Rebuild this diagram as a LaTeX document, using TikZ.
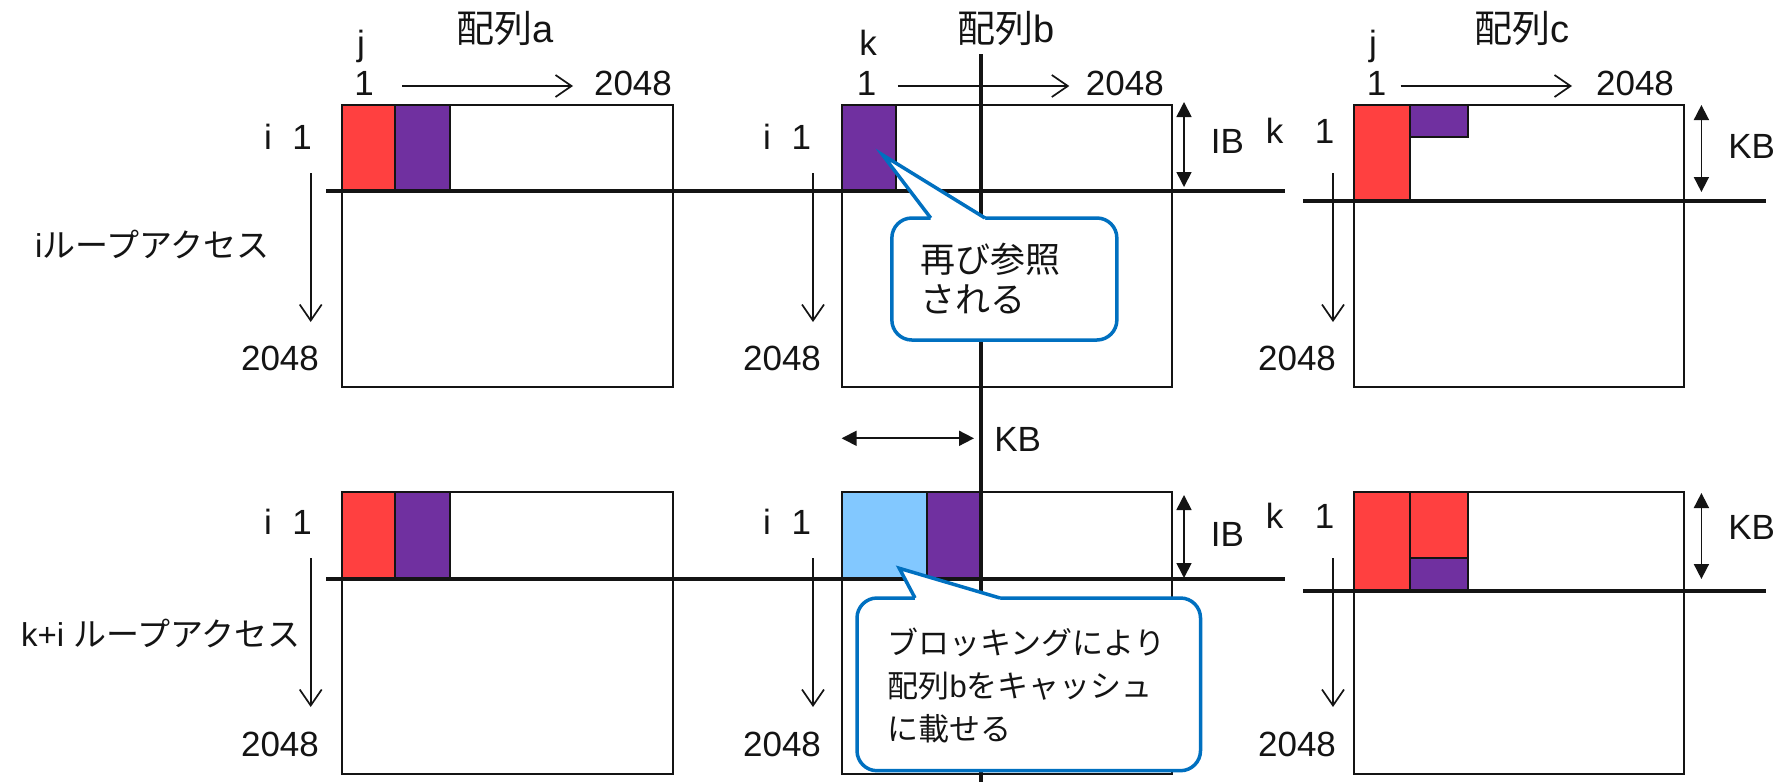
\documentclass[tikz,border=0pt]{standalone}
\usepackage{fontspec}
\setmainfont{Liberation Sans}
\newfontfamily\jp{Noto Sans CJK JP}
\usetikzlibrary{arrows.meta}
\definecolor{cred}{HTML}{FF4040}
\definecolor{cpur}{HTML}{7030A0}
\definecolor{cblue}{HTML}{82C8FF}
\definecolor{cline}{HTML}{0070C0}
\definecolor{ink}{HTML}{141414}
\tikzset{
  frame/.style={draw=ink, line width=1.8pt},
  blk/.style={draw=ink, line width=2pt},
  heavy/.style={draw=ink, line width=4pt},
  arr/.style={draw=ink, line width=1.7pt, -{Straight Barb[length=16pt,width=22pt,line width=1.7pt]}},
  dbl/.style={draw=ink, line width=1.7pt, {Triangle[length=15pt,width=15pt]}-{Triangle[length=15pt,width=15pt]}},
  lab/.style={inner sep=0pt, anchor=base, text=ink, font=\fontsize{35}{40}\selectfont},
  ttl/.style={inner sep=0pt, anchor=base, text=ink, font=\fontsize{38}{40}\selectfont},
  side/.style={inner sep=0pt, anchor=base west, text=ink, font=\fontsize{33}{40}\selectfont},
  cotext/.style={inner sep=0pt, anchor=base west, text=ink},
  cobox/.style={draw=cline, line width=3.5pt, fill=white, rounded corners=20pt},
  coptr/.style={draw=cline, line width=3.5pt, line join=miter},
}
\begin{document}
\begin{tikzpicture}[x=1pt,y=-1pt]
\useasboundingbox[fill=white] (0,0) rectangle (1787,782);

% ---------- boxes ----------
\foreach \L/\R in {342/672.7, 841.6/1172.2, 1353.8/1684.2}{
  \draw[frame] (\L,105) rectangle (\R,387);
  \draw[frame] (\L,492) rectangle (\R,774);
}

% ---------- coloured blocks (top row) ----------
\filldraw[blk, fill=cred] (342,105) rectangle (394.7,191);
\filldraw[blk, fill=cpur] (394.7,105) rectangle (450,191);
\filldraw[blk, fill=cpur] (841.6,105) rectangle (896.3,191);
\filldraw[blk, fill=cred] (1353.8,105) rectangle (1410,201);
\filldraw[blk, fill=cpur] (1410,105) rectangle (1467.5,137);

% ---------- coloured blocks (bottom row) ----------
\filldraw[blk, fill=cred] (342,492) rectangle (394.7,579);
\filldraw[blk, fill=cpur] (394.7,492) rectangle (450,579);
\filldraw[blk, fill=cblue] (841.6,492) rectangle (927,579);
\filldraw[blk, fill=cpur] (927,492) rectangle (981,579);
\filldraw[blk, fill=cred] (1353.8,492) rectangle (1410,590.7);
\filldraw[blk, fill=cred] (1410,492) rectangle (1467.5,557.7);
\filldraw[blk, fill=cpur] (1410,557.7) rectangle (1467.5,590.7);

% ---------- heavy lines ----------
\coordinate (h1a) at (326,191);   \coordinate (h1b) at (1285,191);
\coordinate (h1c) at (1303,201.3); \coordinate (h1d) at (1766,201.3);
\coordinate (h2a) at (326,579);   \coordinate (h2b) at (1285,579);
\coordinate (h2c) at (1303,590.7); \coordinate (h2d) at (1766,590.7);
\coordinate (vt) at (981,54);     \coordinate (vb) at (981,782);
\draw[heavy] (h1a) -- (h1b);
\draw[heavy] (h1c) -- (h1d);
\draw[heavy] (h2a) -- (h2b);
\draw[heavy] (h2c) -- (h2d);
\draw[heavy] (vt) -- (vb);

% ---------- index arrows ----------
\foreach \n/\xa/\xb in {a/402/573, b/897.8/1069.3, c/1400.7/1572}{
  \coordinate (hs\n) at (\xa,86); \coordinate (he\n) at (\xb,86);
  \draw[arr] (hs\n) -- (he\n);
}
\foreach \n/\x in {a/310.7, b/813, c/1333}{
  \coordinate (vs\n) at (\x,173); \coordinate (ve\n) at (\x,322);
  \draw[arr] (vs\n) -- (ve\n);
  \coordinate (ws\n) at (\x,558); \coordinate (we\n) at (\x,707);
  \draw[arr] (ws\n) -- (we\n);
}

% ---------- size arrows ----------
\coordinate (ib1t) at (1184,102);   \coordinate (ib1b) at (1184,187);
\coordinate (ib2t) at (1184,495);   \coordinate (ib2b) at (1184,578);
\coordinate (kb1t) at (1701.4,105); \coordinate (kb1b) at (1701.4,192);
\coordinate (kb2t) at (1701.4,493); \coordinate (kb2b) at (1701.4,579);
\coordinate (kbl) at (841.6,438.3); \coordinate (kbr) at (974,438.3);
\draw[dbl] (ib1t) -- (ib1b);
\draw[dbl] (ib2t) -- (ib2b);
\draw[dbl] (kb1t) -- (kb1b);
\draw[dbl] (kb2t) -- (kb2b);
\draw[dbl] (kbl) -- (kbr);

% ---------- titles and index labels ----------
\node[ttl] (ta) at (505,42) {{\jp 配列}a};
\node[ttl] (tb) at (1006,42) {{\jp 配列}b};
\node[ttl] (tc) at (1522,42) {{\jp 配列}c};
\node[lab] (ja) at (361,55) {j};
\node[lab] (kbk) at (868,55) {k};
\node[lab] (jc) at (1373,55) {j};
\node[lab] (oa) at (364,95) {1};
\node[lab] (ob) at (866.5,95) {1};
\node[lab] (oc) at (1376.7,95) {1};
\node[lab] (ea) at (633,95) {2048};
\node[lab] (eb) at (1124.8,95) {2048};
\node[lab] (ec) at (1635,95) {2048};

% row 1 labels
\node[lab] (ia1) at (268,149) {i};
\node[lab] (na1) at (302,149) {1};
\node[lab] (ib1) at (767,149) {i};
\node[lab] (nb1) at (801.4,149) {1};
\node[lab] (kc1) at (1274.7,143.3) {k};
\node[lab] (nc1) at (1324.7,143.3) {1};
\node[lab] (fa1) at (280,370.7) {2048};
\node[lab] (fb1) at (782,370.7) {2048};
\node[lab] (fc1) at (1297,370.7) {2048};
\node[lab] (ibl1) at (1227.3,153.3) {IB};
\node[lab] (kbc1) at (1751.7,158.3) {KB};
\node[side] (loop1) at (35,257) {i{\jp ループアクセス}};

% row 2 labels
\node[lab] (ia2) at (268,534.3) {i};
\node[lab] (na2) at (302,534.3) {1};
\node[lab] (ib2) at (767,534.3) {i};
\node[lab] (nb2) at (801.4,534.3) {1};
\node[lab] (kc2) at (1274.7,528.3) {k};
\node[lab] (nc2) at (1324.7,528.3) {1};
\node[lab] (fa2) at (280,756.7) {2048};
\node[lab] (fb2) at (782,756.7) {2048};
\node[lab] (fc2) at (1297,756.7) {2048};
\node[lab] (kbm) at (1017.6,451.7) {KB};
\node[lab] (ibl2) at (1227.3,546.7) {IB};
\node[lab] (kbc2) at (1751.7,539.3) {KB};
\node[side] (loop2) at (21,646) {k+i {\jp ループアクセス}};

% ---------- callout 1 ----------
\coordinate (c1tip) at (882.7,155);
\coordinate (c1p) at (930.7,218);
\coordinate (c1q) at (985,218);
\node[cobox, minimum width=225pt, minimum height=122pt, inner sep=0pt] (co1) at (1004.35,279) {};
\fill[white] (c1p) -- (c1tip) -- (c1q) -- ([yshift=-5pt]c1q) -- ([yshift=-5pt]c1p) -- cycle;
\draw[coptr] (c1p) -- (c1tip) -- (c1q);
\node[cotext, font=\jp\fontsize{35}{40}\selectfont] (co1a) at (920,272) {再び参照};
\node[cotext, font=\jp\fontsize{35}{40}\selectfont] (co1b) at (920,312) {される};

% ---------- callout 2 ----------
\coordinate (c2tip) at (899.3,568.3);
\coordinate (c2p) at (915,598);
\coordinate (c2q) at (1000,598);
\node[cobox, minimum width=343.5pt, minimum height=172.7pt, inner sep=0pt] (co2) at (1028.75,684.35) {};
\fill[white] (c2p) -- (c2tip) -- (c2q) -- ([yshift=-5pt]c2q) -- ([yshift=-5pt]c2p) -- cycle;
\draw[coptr] (c2p) -- (c2tip) -- (c2q);
\node[cotext, font=\jp\fontsize{31}{40}\selectfont] (co2a) at (887.5,654) {ブロッキングにより};
\node[cotext, font=\fontsize{31}{40}\selectfont] (co2b) at (887.5,697) {{\jp 配列}b{\jp をキャッシュ}};
\node[cotext, font=\jp\fontsize{31}{40}\selectfont] (co2c) at (887.5,740) {に載せる};
\end{tikzpicture}
\end{document}
